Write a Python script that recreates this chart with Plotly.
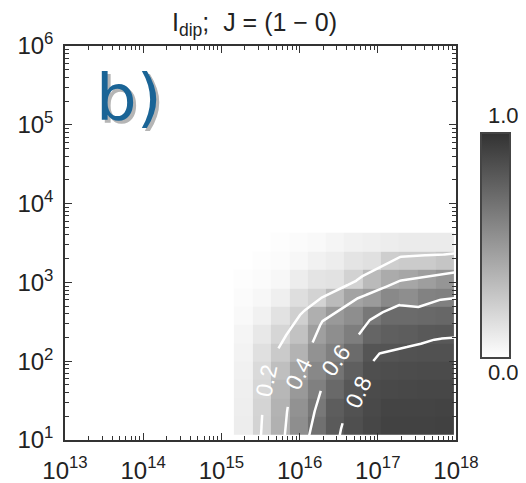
import numpy as np
import plotly.graph_objects as go

# ---- data ----
# log10 of density (x) and temperature (y) at the image cell centres
log_density = [15.28, 15.52, 15.75, 15.99, 16.22, 16.45, 16.69, 16.92, 17.16, 17.39, 17.63, 17.86]
log_temperature = [1.18, 1.41, 1.64, 1.88, 2.11, 2.34, 2.58, 2.81, 3.04, 3.27, 3.51]

# I_dip values, rows from lowest temperature (bottom) to highest (top)
i_dip = [
    [0.09, 0.215, 0.38, 0.55, 0.70, 0.805, 0.86, 0.90, 0.92, 0.92, 0.92, 0.925],
    [0.085, 0.21, 0.37, 0.53, 0.66, 0.79, 0.845, 0.89, 0.91, 0.91, 0.91, 0.915],
    [0.08, 0.195, 0.35, 0.50, 0.62, 0.73, 0.82, 0.88, 0.89, 0.895, 0.90, 0.90],
    [0.07, 0.18, 0.31, 0.45, 0.58, 0.68, 0.78, 0.86, 0.87, 0.875, 0.88, 0.88],
    [0.06, 0.15, 0.26, 0.37, 0.53, 0.62, 0.72, 0.83, 0.835, 0.845, 0.85, 0.85],
    [0.05, 0.11, 0.20, 0.30, 0.47, 0.55, 0.63, 0.75, 0.78, 0.79, 0.81, 0.815],
    [0.03, 0.07, 0.14, 0.23, 0.39, 0.50, 0.55, 0.66, 0.72, 0.72, 0.73, 0.74],
    [0.02, 0.04, 0.08, 0.16, 0.215, 0.33, 0.45, 0.49, 0.575, 0.55, 0.61, 0.62],
    [0.01, 0.02, 0.04, 0.09, 0.13, 0.14, 0.22, 0.335, 0.41, 0.436, 0.474, 0.515],
    [0.00, 0.01, 0.02, 0.04, 0.07, 0.09, 0.13, 0.15, 0.24, 0.256, 0.256, 0.285],
    [0.00, 0.00, 0.01, 0.02, 0.03, 0.05, 0.07, 0.08, 0.09, 0.10, 0.10, 0.10],
]
contour_levels = [0.2, 0.4, 0.6, 0.8]
contour_labels = ["0.2", "0.4", "0.6", "0.8"]
decades_x = [13, 14, 15, 16, 17, 18]
decades_y = [1, 2, 3, 4, 5, 6]
title_text = "I<sub>dip</sub>;  J = (1 \u2212 0)"
panel_label = "b)"
colorbar_top_label = "1.0"
colorbar_bottom_label = "0.0"

# ---- layout geometry (page pixels; the page body has an 8 px margin) ----
OFF = 8
W, H = 526 - OFF, 483 - OFF
ML, MR, MT, MB = 65 - OFF, 70, 46 - OFF, 43
PW, PH = W - ML - MR, H - MT - MB
XR, YR = (13, 18), (1, 6)
SX = PW / (XR[1] - XR[0])
SY = PH / (YR[1] - YR[0])
FONT = "Liberation Sans, Arial, sans-serif"

# where the contour labels sit (approximately, in data units; snapped onto the line)
label_spots = [(15.53, 1.76), (15.90, 1.89), (16.49, 2.00), (16.60, 1.67)]
GAP = 34  # px radius of the gap left around each label

xc = np.array(log_density)
yc = np.array(log_temperature)
Z = np.array(i_dip, float)
# contour node positions: same grid, spread so the lines reach the frame edges
cx = xc[0] + (xc - xc[0]) * (XR[1] - xc[0]) / (xc[-1] - xc[0])
cy = yc[-1] - (yc[-1] - yc) * (yc[-1] - YR[0]) / (yc[-1] - yc[0])


def contour_paths(X, Y, Z, level):
    ny, nx = Z.shape

    def pt(k):
        kind, j, i = k
        if kind == "h":
            z0, z1 = Z[j, i], Z[j, i + 1]
            t = (level - z0) / (z1 - z0)
            return (X[i] + t * (X[i + 1] - X[i]), Y[j])
        z0, z1 = Z[j, i], Z[j + 1, i]
        t = (level - z0) / (z1 - z0)
        return (X[i], Y[j] + t * (Y[j + 1] - Y[j]))

    adj = {}

    def add(a, b):
        adj.setdefault(a, []).append(b)
        adj.setdefault(b, []).append(a)

    for j in range(ny - 1):
        for i in range(nx - 1):
            c = [Z[j, i] >= level, Z[j, i + 1] >= level,
                 Z[j + 1, i + 1] >= level, Z[j + 1, i] >= level]
            e = []
            if c[0] != c[1]:
                e.append(("h", j, i))
            if c[1] != c[2]:
                e.append(("v", j, i + 1))
            if c[2] != c[3]:
                e.append(("h", j + 1, i))
            if c[3] != c[0]:
                e.append(("v", j, i))
            if len(e) == 2:
                add(e[0], e[1])
            elif len(e) == 4:
                if (Z[j:j + 2, i:i + 2].mean() >= level) == c[0]:
                    add(e[0], e[1]); add(e[2], e[3])
                else:
                    add(e[3], e[0]); add(e[1], e[2])
    visited, paths = set(), []
    starts = [k for k, v in adj.items() if len(v) == 1] + list(adj.keys())
    for s in starts:
        if s in visited:
            continue
        path, cur = [s], s
        visited.add(s)
        while True:
            nxt = [n for n in adj[cur] if n not in visited]
            if not nxt:
                break
            cur = nxt[0]
            visited.add(cur)
            path.append(cur)
        paths.append([pt(k) for k in path])
    return paths


def to_px(p):
    return np.array([(p[0] - XR[0]) * SX, (YR[1] - p[1]) * SY])


def to_data(q):
    return (q[0] / SX + XR[0], YR[1] - q[1] / SY)


def px_paper(xpage):
    return (xpage - OFF - ML) / PW


def py_paper(ypage):
    return (MT + PH - (ypage - OFF)) / PH


fig = go.Figure()
fig.add_trace(go.Heatmap(
    x=log_density, y=log_temperature, z=i_dip,
    zmin=0, zmax=1,
    colorscale=[[0, "rgb(255,255,255)"], [1, "rgb(50,50,50)"]],
    colorbar=dict(x=px_paper(481), xanchor="left", y=py_paper(245.5),
                  yanchor="middle", len=225, lenmode="pixels", thickness=29,
                  outlinewidth=2, outlinecolor="#444", showticklabels=False,
                  ticks="", xpad=0, ypad=0),
    hoverinfo="skip",
))

label_annots = []
for level, text, spot in zip(contour_levels, contour_labels, label_spots):
    paths = contour_paths(cx, cy, Z, level)
    dense = []
    for p in paths:
        P = [to_px(q) for q in p]
        d = [P[0]]
        for a, b in zip(P[:-1], P[1:]):
            n = max(1, int(np.ceil(np.linalg.norm(b - a))))
            for t in np.linspace(0, 1, n + 1)[1:]:
                d.append(a + t * (b - a))
        dense.append(np.array(d))
    target = to_px(spot)
    best = min(((np.linalg.norm(D - target, axis=1).min(), k) for k, D in enumerate(dense)))
    D = dense[best[1]]
    idx = int(np.argmin(np.linalg.norm(D - target, axis=1)))
    centre = D[idx]
    a = D[max(0, idx - 14)]
    b = D[min(len(D) - 1, idx + 14)]
    ang = np.degrees(np.arctan2(b[1] - a[1], b[0] - a[0]))
    if ang > 90:
        ang -= 180
    if ang < -90:
        ang += 180
    xs, ys = [], []
    for k, Dk in enumerate(dense):
        keep = np.ones(len(Dk), bool)
        if k == best[1]:
            keep = np.linalg.norm(Dk - centre, axis=1) > GAP
        prev = False
        for q, kp in zip(Dk, keep):
            if kp:
                dx, dy = to_data(q)
                xs.append(dx); ys.append(dy)
            elif prev:
                xs.append(None); ys.append(None)
            prev = kp
        xs.append(None); ys.append(None)
    fig.add_trace(go.Scatter(x=xs, y=ys, mode="lines",
                             line=dict(color="white", width=2.5),
                             hoverinfo="skip", showlegend=False))
    lx, ly = to_data(centre)
    label_annots.append(dict(text=text, x=lx, y=ly, xref="x", yref="y",
                             showarrow=False, textangle=ang,
                             xanchor="center", yanchor="middle",
                             font=dict(size=23, color="white", family=FONT)))

minor_x = [np.log10(k) + d for d in decades_x[:-1] for k in range(2, 10)]
minor_y = [np.log10(k) + d for d in decades_y[:-1] for k in range(2, 10)]
axis_common = dict(showgrid=False, zeroline=False, showline=True, linecolor="#333",
                   linewidth=1.5, mirror="ticks", ticks="inside", ticklen=7,
                   tickwidth=1.2, tickcolor="#333", automargin=False,
                   tickfont=dict(size=24, color="#222", family=FONT))
fig.update_xaxes(range=list(XR), tickmode="array", tickvals=decades_x,
                 ticktext=[f"10<sup>{d}</sup>" for d in decades_x],
                 minor=dict(tickvals=minor_x, ticks="inside", ticklen=4,
                            tickcolor="#333", tickwidth=1),
                 ticklabelstandoff=8, **axis_common)
fig.update_yaxes(range=list(YR), tickmode="array", tickvals=decades_y,
                 ticktext=[f"10<sup>{d}</sup>" for d in decades_y],
                 minor=dict(tickvals=minor_y, ticks="inside", ticklen=4,
                            tickcolor="#333", tickwidth=1),
                 ticklabelstandoff=5, **axis_common)

annotations = [
    dict(text=title_text, x=px_paper(254), y=py_paper(24), xref="paper", yref="paper",
         showarrow=False, xanchor="center", yanchor="middle",
         font=dict(size=25, color="#222", family=FONT)),
    dict(text=panel_label, x=px_paper(129), y=py_paper(98), xref="paper", yref="paper",
         showarrow=False, xanchor="center", yanchor="middle", xshift=3, yshift=-3,
         font=dict(size=64, color="#b5b5b5", family="DejaVu Sans")),
    dict(text=panel_label, x=px_paper(129), y=py_paper(98), xref="paper", yref="paper",
         showarrow=False, xanchor="center", yanchor="middle",
         font=dict(size=64, color="#1a6496", family="DejaVu Sans")),
    dict(text=colorbar_top_label, x=px_paper(504), y=py_paper(116), xref="paper",
         yref="paper", showarrow=False, xanchor="center", yanchor="middle",
         font=dict(size=22, color="#222", family=FONT)),
    dict(text=colorbar_bottom_label, x=px_paper(504), y=py_paper(372), xref="paper",
         yref="paper", showarrow=False, xanchor="center", yanchor="middle",
         font=dict(size=22, color="#222", family=FONT)),
] + label_annots

fig.update_layout(width=W, height=H, margin=dict(l=ML, r=MR, t=MT, b=MB),
                  plot_bgcolor="white", paper_bgcolor="white",
                  annotations=annotations, showlegend=False)
fig.write_html("out.html")
